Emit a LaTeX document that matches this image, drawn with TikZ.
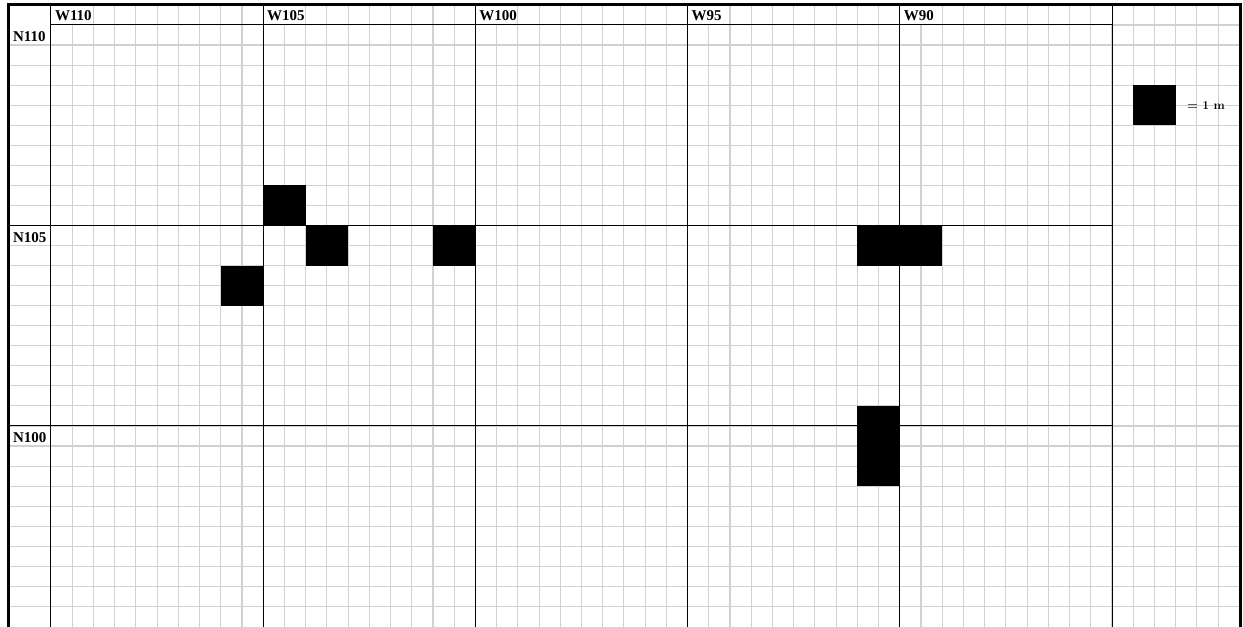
\documentclass[tikz,border=0pt]{standalone}
\usepackage{fontspec}
\newfontfamily\lblfont{Liberation Serif}
\begin{document}
\begin{tikzpicture}[x=42.44pt,y=-40.1pt,
  minor/.style={draw=black!18,line width=1.1pt},
  major/.style={draw=black,line width=1pt},
  frame/.style={draw=black,line width=3pt,line join=miter},
  pit/.style={fill=black},
  coltag/.style={anchor=west,font=\lblfont\bfseries\fontsize{15}{15}\selectfont,inner sep=0pt},
  rowtag/.style={anchor=west,font=\lblfont\bfseries\fontsize{15}{15}\selectfont,inner sep=0pt},
  legtext/.style={anchor=west,font=\bfseries\fontsize{12}{12}\selectfont,inner sep=0pt}]
\useasboundingbox (-1.2017,-0.6234) rectangle (28.087,14.988);
\begin{scope}
\clip (-1.2017,-0.6234) rectangle (28.087,14.988);
% minor grid, horizontals
\foreach \r in {0.5,1,...,14.5} \draw[minor] (-1,\r) -- (28,\r);
\draw[minor] (25,0) -- (28,0);
\draw[minor] (25,5) -- (28,5);
\draw[minor] (25,10) -- (28,10);
% minor grid, verticals in body
\foreach \c in {0.5,1,...,27.5} \draw[minor] (\c,0) -- (\c,15.2);
% minor grid, verticals in header row (skipping the cell behind each label)
\foreach \m in {0,5,10,15,20}
  \foreach \k in {1,1.5,2,2.5,3,3.5,4,4.5} \draw[minor] (\m+\k,-0.5) -- (\m+\k,0);
\foreach \c in {25.5,26,26.5,27,27.5} \draw[minor] (\c,-0.5) -- (\c,0);
% major lines
\foreach \c in {0,5,10,15,20,25} \draw[major] (\c,-0.5) -- (\c,15.2);
\draw[major] (0,0) -- (25,0);
\draw[major] (-1,5) -- (25,5);
\draw[major] (-1,10) -- (25,10);
% features (1 m squares)
\fill[pit] (5,4) rectangle (6,5);
\fill[pit] (6,5) rectangle (7,6);
\fill[pit] (9,5) rectangle (10,6);
\fill[pit] (4,6) rectangle (5,7);
\fill[pit] (19,5) rectangle (21,6);
\fill[pit] (19,9.5) rectangle (20,11.5);
% legend square
\fill[pit] (25.5,1.5) rectangle (26.5,2.5);
% frame
\draw[frame] (-1.01,15.5) -- (-1.01,-0.52) -- (28.03,-0.52) -- (28.03,15.5);
\end{scope}
% labels
\node[coltag] (w110) at (0.09,-0.232) {W110};
\node[coltag] (w105) at (5.09,-0.232) {W105};
\node[coltag] (w100) at (10.09,-0.232) {W100};
\node[coltag] (w95) at (15.09,-0.232) {W95};
\node[coltag] (w90) at (20.09,-0.232) {W90};
\node[rowtag] (n110) at (-0.9,0.3) {N110};
\node[rowtag] (n105) at (-0.9,5.3) {N105};
\node[rowtag] (n100) at (-0.9,10.3) {N100};
\node[legtext] (legtxt) at (26.77,2.02) {= 1 m};
\end{tikzpicture}
\end{document}
